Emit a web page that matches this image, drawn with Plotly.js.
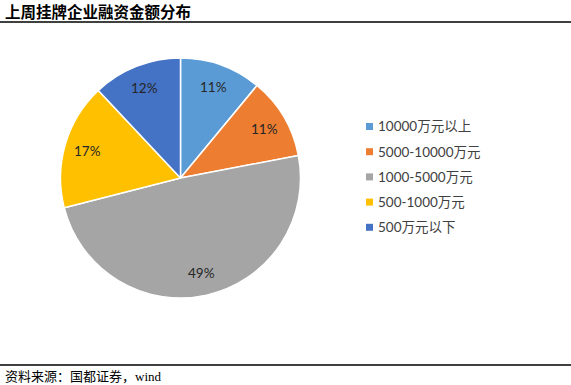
<!DOCTYPE html>
<html><head><meta charset="utf-8">
<script src="https://cdn.plot.ly/plotly-3.0.1.min.js"></script>
<style>html,body{margin:0;padding:0;background:#fff;}#c{width:571px;height:385px;}</style>
</head><body><div id="c"></div>
<script>
const categories = ["10000万元以上", "5000-10000万元", "1000-5000万元", "500-1000万元", "500万元以下"];
const values = [11, 11, 49, 17, 12];
const colors = ["#5B9BD5", "#ED7D31", "#A5A5A5", "#FFC000", "#4472C4"];
const titleText = "上周挂牌企业融资金额分布";
const sourceText = "资料来源：国都证券，wind";

const W = 571, H = 385;
const cx = 180.5, cy = 178, R = 120;
const trace = {
  type: "pie",
  labels: categories,
  values: values,
  sort: false,
  direction: "clockwise",
  rotation: 0,
  marker: {colors: colors, line: {color: "#ffffff", width: 1.5}},
  textinfo: "none",
  hoverinfo: "none",
  showlegend: false,
  domain: {x: [(cx - R) / W, (cx + R) / W], y: [(H - cy - R) / H, (H - cy + R) / H]}
};

const total = values.reduce((a, b) => a + b, 0);
const annotations = [];
let cum = 0;
values.forEach((v, i) => {
  const mid = (cum + v / 2) / total * 2 * Math.PI;
  cum += v;
  const rr = R * 0.81;
  const px = cx + rr * Math.sin(mid), py = cy - rr * Math.cos(mid);
  annotations.push({text: Math.round(v / total * 100) + "%", xref: "paper", yref: "paper",
    x: px / W, y: 1 - py / H, xanchor: "center", yanchor: "middle", showarrow: false,
    font: {family: "Lato, Liberation Sans, sans-serif", size: 13.5, color: "#262626"}});
});

const shapes = [
  {type: "line", xref: "paper", yref: "paper", x0: 0, x1: 1, y0: 1 - 22 / H, y1: 1 - 22 / H, line: {color: "#000", width: 1.5}},
  {type: "line", xref: "paper", yref: "paper", x0: 0, x1: 1, y0: 1 - 365 / H, y1: 1 - 365 / H, line: {color: "#000", width: 1.5}}
];
categories.forEach((c, i) => {
  const yc = 126.5 + 25.2 * i;
  shapes.push({type: "rect", xref: "paper", yref: "paper", x0: 366 / W, x1: 373 / W,
    y0: 1 - (yc + 3.5) / H, y1: 1 - (yc - 3.5) / H, fillcolor: colors[i], line: {width: 0}});
  annotations.push({text: c, xref: "paper", yref: "paper", x: 376 / W, y: 1 - yc / H,
    xanchor: "left", yanchor: "middle", showarrow: false,
    font: {family: "Lato, Noto Sans CJK SC, sans-serif", size: 13.5, color: "#404040"}});
});

annotations.push({text: "<b>" + titleText + "</b>", xref: "paper", yref: "paper", x: 3 / W, y: 1 - 11 / H, xanchor: "left", yanchor: "middle", showarrow: false,
  font: {family: "Noto Sans CJK SC, sans-serif", size: 15.5, color: "#000"}});
annotations.push({text: sourceText, xref: "paper", yref: "paper", x: 3 / W, y: 1 - 376 / H, xanchor: "left", yanchor: "middle", showarrow: false,
  font: {family: "Liberation Serif, Noto Sans CJK SC, serif", size: 13, color: "#000"}});

const layout = {
  width: W, height: H,
  margin: {l: 0, r: 0, t: 0, b: 0},
  paper_bgcolor: "#ffffff",
  showlegend: false,
  shapes: shapes,
  annotations: annotations
};
Plotly.newPlot("c", [trace], layout, {staticPlot: true, displayModeBar: false});
</script></body></html>
